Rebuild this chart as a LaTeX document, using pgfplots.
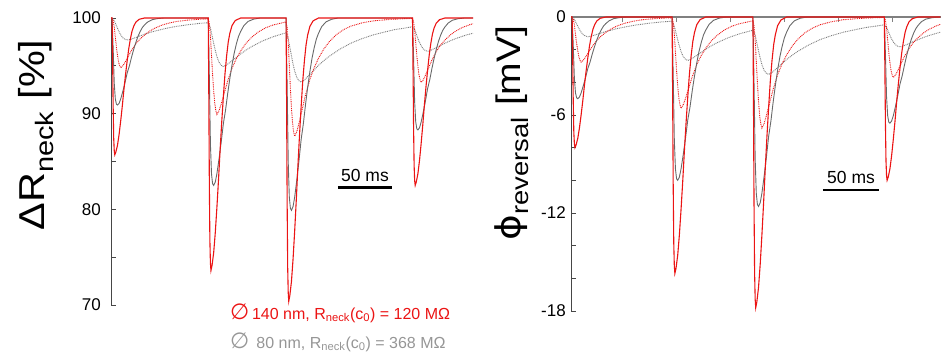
\documentclass[border=0pt]{standalone}
\usepackage{fontspec}
\setmainfont{Liberation Sans}
\newfontfamily\djv{DejaVu Sans}
\usepackage{graphicx}
\usepackage{pgfplots}
\pgfplotsset{compat=1.18}
\definecolor{cred}{RGB}{235,20,20}
\definecolor{cgs}{RGB}{105,105,105}
\definecolor{cgd}{RGB}{125,125,125}
\definecolor{cleg}{RGB}{150,150,150}
\definecolor{caxis}{RGB}{70,70,70}
\pgfplotsset{
  common/.style={scale only axis, clip=false, no markers,
    tick align=inside, major tick length=5pt, minor tick length=5pt,
    y axis line style={draw=caxis, line width=0.9pt},
    every tick/.style={draw=caxis, line width=0.9pt},
    yticklabel style={font=\fontsize{17}{19}\selectfont, inner sep=0pt, text=black},
  },
  rs/.style={cred, line width=1.1pt},
  gs/.style={cgs, line width=0.9pt},
  rd/.style={cred, line width=0.9pt, dash pattern=on 0.9pt off 0.9pt},
  gd/.style={cgd, line width=0.9pt, dash pattern=on 0.9pt off 0.9pt},
}
\begin{document}
\begin{tikzpicture}[x=1pt,y=1pt]
\useasboundingbox (0pt,0pt) rectangle (941pt,-353pt);
% ---------------- left panel ----------------
\begin{axis}[common,
  at={(111pt,-305pt)}, anchor=south west,
  width=362pt, height=287pt,
  xmin=0, xmax=335, ymin=70, ymax=100,
  hide x axis, axis y line*=left,
  ytick={70,80,90,100}, yticklabels={70,80,90,100},
  minor ytick={75,85,95},
  yticklabel style={xshift=-10pt},
]
\addplot[gd] coordinates {(0,100)(1,100)(3,99.72)(5,99.20)(7,98.67)(9,98.23)(11,97.93)(13,97.77)(15,97.70)(18,97.77)(21,97.88)(26,98.09)(31,98.30)(36,98.48)(41,98.64)(51,98.92)(61,99.13)(71,99.29)(81,99.43)(90,99.51)(92,98.96)(94,97.89)(96,96.83)(98,95.97)(100,95.37)(102,95.06)(104,94.93)(107,95.09)(110,95.36)(115,95.80)(120,96.24)(125,96.65)(130,97.00)(140,97.59)(150,98.04)(162,98.46)(164,97.86)(166,96.64)(168,95.44)(170,94.45)(172,93.78)(174,93.43)(176,93.31)(179,93.52)(182,93.87)(187,94.45)(192,95.05)(197,95.55)(202,96.00)(212,96.76)(222,97.37)(232,97.83)(242,98.21)(252,98.50)(262,98.77)(279,99.08)(281,98.78)(283,98.17)(285,97.57)(287,97.10)(289,96.76)(291,96.59)(293,96.52)(296,96.63)(299,96.79)(304,97.08)(309,97.36)(314,97.62)(319,97.85)(329,98.23)(335,98.41)};
\addplot[rd] coordinates {(0,100)(1,100)(2,99.74)(3,99.06)(4,98.02)(5,96.98)(6,96.10)(7,95.42)(8,95.01)(9,94.80)(11,95.01)(13,95.37)(16,96.00)(19,96.62)(23,97.30)(27,97.82)(31,98.23)(36,98.65)(41,98.96)(47,99.25)(54,99.48)(61,99.64)(71,99.78)(81,99.86)(90,99.91)(91,99.42)(92,98.12)(93,96.12)(94,94.12)(95,92.42)(96,91.12)(97,90.32)(98,89.92)(100,90.32)(102,91.02)(105,92.22)(108,93.43)(112,94.74)(116,95.75)(120,96.56)(125,97.37)(130,97.97)(136,98.52)(143,98.97)(150,99.27)(160,99.54)(162,99.60)(163,99.02)(164,97.45)(165,95.05)(166,92.65)(167,90.60)(168,89.05)(169,88.10)(170,87.64)(172,88.14)(174,89.01)(177,90.49)(180,91.96)(184,93.57)(188,94.80)(192,95.79)(197,96.77)(202,97.52)(208,98.21)(215,98.77)(222,99.15)(232,99.48)(242,99.69)(257,99.84)(272,99.93)(279,99.95)(280,99.63)(281,98.76)(282,97.42)(283,96.08)(284,94.94)(285,94.07)(286,93.54)(287,93.27)(289,93.54)(291,94.01)(294,94.81)(297,95.61)(301,96.49)(305,97.16)(309,97.69)(314,98.23)(319,98.63)(325,99.00)(332,99.30)(335,99.40)};
\addplot[gs] coordinates {(0,100)(1,100)(2,96.81)(3,93.17)(4,91.54)(5,90.99)(6,90.90)(7.5,91.08)(9,91.54)(11,92.36)(13,93.27)(15,94.27)(17,94.99)(19,95.90)(21,96.72)(23,97.45)(25,98.09)(27,98.59)(29,99.00)(31,99.27)(34,99.59)(38,99.82)(43,99.94)(49,100)(90,100)(91,93.87)(92,86.87)(93,83.72)(94,82.67)(95,82.50)(96.5,82.85)(98,83.72)(100,85.30)(102,87.05)(104,88.97)(106,90.37)(108,92.12)(110,93.70)(112,95.10)(114,96.32)(116,97.29)(118,98.07)(120,98.60)(123,99.21)(127,99.65)(132,99.88)(138,100)(162,100)(163,92.96)(164,84.92)(165,81.31)(166,80.10)(167,79.90)(168.5,80.30)(170,81.31)(172,83.12)(174,85.13)(176,87.34)(178,88.94)(180,90.95)(182,92.76)(184,94.37)(186,95.78)(188,96.88)(190,97.79)(192,98.39)(195,99.10)(199,99.60)(204,99.86)(210,100)(279,100)(280,95.90)(281,91.22)(282,89.12)(283,88.42)(284,88.30)(285.5,88.53)(287,89.12)(289,90.17)(291,91.34)(293,92.63)(295,93.56)(297,94.73)(299,95.79)(301,96.72)(303,97.54)(305,98.19)(307,98.71)(309,99.06)(312,99.47)(316,99.77)(321,99.92)(327,100)(335,100)};
\addplot[rs] coordinates {(0,100)(1,100)(1.5,95.71)(2,90.71)(2.5,87.42)(3,86.13)(3.5,85.70)(4.5,85.99)(6,86.70)(7.5,87.84)(9,89.27)(10.5,90.85)(12,92.56)(13.5,94.14)(15,95.57)(16.5,96.85)(18,97.85)(19.5,98.64)(21,99.14)(23,99.57)(26,99.86)(31,100)(90,100)(90.5,92.08)(91,82.84)(91.5,76.77)(92,74.39)(92.5,73.60)(93.5,74.13)(95,75.45)(96.5,77.56)(98,80.20)(99.5,83.10)(101,86.27)(102.5,89.18)(104,91.82)(105.5,94.19)(107,96.04)(108.5,97.49)(110,98.42)(112,99.21)(115,99.74)(120,100)(162,100)(162.5,91.12)(163,80.76)(163.5,73.95)(164,71.29)(164.5,70.40)(165.5,70.99)(167,72.47)(168.5,74.84)(170,77.80)(171.5,81.06)(173,84.61)(174.5,87.86)(176,90.82)(177.5,93.49)(179,95.56)(180.5,97.19)(182,98.22)(184,99.11)(187,99.70)(192,100)(279,100)(279.5,94.75)(280,88.62)(280.5,84.60)(281,83.02)(281.5,82.50)(282.5,82.85)(284,83.72)(285.5,85.12)(287,86.87)(288.5,88.80)(290,90.90)(291.5,92.82)(293,94.57)(294.5,96.15)(296,97.37)(297.5,98.34)(299,98.95)(301,99.47)(304,99.82)(309,100)(335,100)};
\draw[black, line width=2.5pt] (axis cs:210,82.28) -- (axis cs:260,82.28);
\node[anchor=base, inner sep=0pt, font=\fontsize{17.5}{19}\selectfont] at (axis cs:235,82.96) {50 ms};
\end{axis}
% ---------------- right panel ----------------
\begin{axis}[common,
  at={(571pt,-311pt)}, anchor=south west,
  width=370pt, height=294pt,
  xmin=0, xmax=329.5, ymin=-18, ymax=0,
  axis x line*=top, axis y line*=left,
  x axis line style={draw=gray, line width=1.1pt},
  xtick={46,94,142,190,238,286}, xticklabels={},
  xtick style={draw=gray, line width=0.9pt},
  ytick={-18,-12,-6,0}, yticklabels={-18,-12,-6,0},
  minor ytick={-16,-14,-10,-8,-4,-2},
  yticklabel style={xshift=-5pt},
]
\addplot[gd] coordinates {(0,0)(1,0)(3,-0.15)(5,-0.42)(7,-0.70)(9,-0.93)(11,-1.09)(13,-1.17)(15,-1.21)(18,-1.17)(21,-1.11)(26,-1.00)(31,-0.89)(36,-0.80)(41,-0.71)(51,-0.57)(61,-0.46)(71,-0.37)(81,-0.30)(90,-0.26)(92,-0.55)(94,-1.11)(96,-1.66)(98,-2.12)(100,-2.43)(102,-2.59)(104,-2.66)(107,-2.58)(110,-2.44)(115,-2.21)(120,-1.97)(125,-1.76)(130,-1.58)(140,-1.27)(150,-1.03)(162,-0.81)(164,-1.12)(166,-1.76)(168,-2.39)(170,-2.91)(172,-3.27)(174,-3.45)(176,-3.51)(179,-3.40)(182,-3.22)(187,-2.91)(192,-2.60)(197,-2.34)(202,-2.10)(212,-1.70)(222,-1.38)(232,-1.14)(242,-0.94)(252,-0.79)(262,-0.65)(279,-0.48)(281,-0.64)(283,-0.96)(285,-1.28)(287,-1.52)(289,-1.70)(291,-1.79)(293,-1.83)(296,-1.77)(299,-1.69)(304,-1.53)(309,-1.39)(314,-1.25)(319,-1.13)(329,-0.93)};
\addplot[rd] coordinates {(0,0)(1,0)(2,-0.14)(3,-0.50)(4,-1.05)(5,-1.60)(6,-2.07)(7,-2.43)(8,-2.64)(9,-2.76)(11,-2.64)(13,-2.45)(16,-2.12)(19,-1.79)(23,-1.43)(27,-1.16)(31,-0.94)(36,-0.72)(41,-0.55)(47,-0.40)(54,-0.28)(61,-0.19)(71,-0.12)(81,-0.07)(90,-0.05)(91,-0.32)(92,-1.04)(93,-2.15)(94,-3.26)(95,-4.21)(96,-4.93)(97,-5.37)(98,-5.59)(100,-5.37)(102,-4.98)(105,-4.32)(108,-3.65)(112,-2.92)(116,-2.36)(120,-1.91)(125,-1.46)(130,-1.13)(136,-0.82)(143,-0.57)(150,-0.41)(160,-0.26)(162,-0.23)(163,-0.54)(164,-1.40)(165,-2.72)(166,-4.04)(167,-5.17)(168,-6.02)(169,-6.55)(170,-6.80)(172,-6.52)(174,-6.04)(177,-5.23)(180,-4.42)(184,-3.54)(188,-2.86)(192,-2.32)(197,-1.78)(202,-1.36)(208,-0.98)(215,-0.68)(222,-0.47)(232,-0.29)(242,-0.17)(257,-0.09)(272,-0.04)(279,-0.03)(280,-0.20)(281,-0.68)(282,-1.42)(283,-2.16)(284,-2.78)(285,-3.26)(286,-3.55)(287,-3.70)(289,-3.55)(291,-3.29)(294,-2.85)(297,-2.41)(301,-1.93)(305,-1.56)(309,-1.27)(314,-0.97)(319,-0.75)(325,-0.55)(329,-0.45)};
\addplot[gs] coordinates {(0,0)(1,0)(2,-1.75)(3,-3.75)(4,-4.65)(5,-4.95)(6,-5.00)(7.5,-4.90)(9,-4.65)(11,-4.20)(13,-3.70)(15,-3.15)(17,-2.75)(19,-2.25)(21,-1.80)(23,-1.40)(25,-1.05)(27,-0.78)(29,-0.55)(31,-0.40)(34,-0.23)(38,-0.10)(43,-0.04)(49,0)(90,0)(91,-3.50)(92,-7.50)(93,-9.30)(94,-9.90)(95,-10.00)(96.5,-9.80)(98,-9.30)(100,-8.40)(102,-7.40)(104,-6.30)(106,-5.50)(108,-4.50)(110,-3.60)(112,-2.80)(114,-2.10)(116,-1.55)(118,-1.10)(120,-0.80)(123,-0.45)(127,-0.20)(132,-0.07)(138,0)(162,0)(163,-4.06)(164,-8.70)(165,-10.79)(166,-11.48)(167,-11.60)(168.5,-11.37)(170,-10.79)(172,-9.74)(174,-8.58)(176,-7.31)(178,-6.38)(180,-5.22)(182,-4.18)(184,-3.25)(186,-2.44)(188,-1.80)(190,-1.28)(192,-0.93)(195,-0.52)(199,-0.23)(204,-0.08)(210,0)(279,0)(280,-2.28)(281,-4.88)(282,-6.05)(283,-6.44)(284,-6.50)(285.5,-6.37)(287,-6.05)(289,-5.46)(291,-4.81)(293,-4.10)(295,-3.58)(297,-2.93)(299,-2.34)(301,-1.82)(303,-1.37)(305,-1.01)(307,-0.72)(309,-0.52)(312,-0.29)(316,-0.13)(321,-0.05)(327,0)(329,0)};
\addplot[rs] coordinates {(0,0)(1,0)(1.5,-2.40)(2,-5.20)(2.5,-7.04)(3,-7.76)(3.5,-8.00)(4.5,-7.84)(6,-7.44)(7.5,-6.80)(9,-6.00)(10.5,-5.12)(12,-4.16)(13.5,-3.28)(15,-2.48)(16.5,-1.76)(18,-1.20)(19.5,-0.76)(21,-0.48)(23,-0.24)(26,-0.08)(31,0)(90,0)(90.5,-4.71)(91,-10.21)(91.5,-13.82)(92,-15.23)(92.5,-15.70)(93.5,-15.39)(95,-14.60)(96.5,-13.35)(98,-11.78)(99.5,-10.05)(101,-8.16)(102.5,-6.44)(104,-4.87)(105.5,-3.45)(107,-2.36)(108.5,-1.49)(110,-0.94)(112,-0.47)(115,-0.16)(120,0)(162,0)(162.5,-5.34)(163,-11.57)(163.5,-15.66)(164,-17.27)(164.5,-17.80)(165.5,-17.44)(167,-16.55)(168.5,-15.13)(170,-13.35)(171.5,-11.39)(173,-9.26)(174.5,-7.30)(176,-5.52)(177.5,-3.92)(179,-2.67)(180.5,-1.69)(182,-1.07)(184,-0.53)(187,-0.18)(192,0)(279,0)(279.5,-3.00)(280,-6.50)(280.5,-8.80)(281,-9.70)(281.5,-10.00)(282.5,-9.80)(284,-9.30)(285.5,-8.50)(287,-7.50)(288.5,-6.40)(290,-5.20)(291.5,-4.10)(293,-3.10)(294.5,-2.20)(296,-1.50)(297.5,-0.95)(299,-0.60)(301,-0.30)(304,-0.10)(309,0)(329,0)};
\draw[black, line width=2.5pt] (axis cs:224.4,-10.59) -- (axis cs:274.4,-10.59);
\node[anchor=base, inner sep=0pt, font=\fontsize{17.5}{19}\selectfont] at (axis cs:249.4,-10.17) {50 ms};
\end{axis}
% ---------------- labels ----------------
\node[rotate=90, anchor=base, inner sep=0pt, font=\fontsize{36}{40}\selectfont] at (44pt,-135pt)
  {\scalebox{1.15}[1]{ΔR\textsubscript{neck} [\%]}};
\node[rotate=90, anchor=base, inner sep=0pt, font=\fontsize{34}{38}\selectfont] at (520pt,-133pt)
  {\scalebox{1.15}[1]{{\djv ϕ}\textsubscript{reversal} [mV]}};
% ---------------- legend text ----------------
\node[anchor=base west, inner sep=0pt, text=cred, font=\fontsize{16}{18}\selectfont] at (230pt,-319pt)
  {{\djv\fontsize{22}{22}\selectfont ∅}\,140 nm, R\textsubscript{neck}(c\textsubscript{0}) = 120 MΩ};
\node[anchor=base west, inner sep=0pt, text=cleg, font=\fontsize{16}{18}\selectfont] at (230pt,-348pt)
  {{\djv\fontsize{22}{22}\selectfont ∅}\ \,80 nm, R\textsubscript{neck}(c\textsubscript{0}) = 368 MΩ};
\end{tikzpicture}
\end{document}
